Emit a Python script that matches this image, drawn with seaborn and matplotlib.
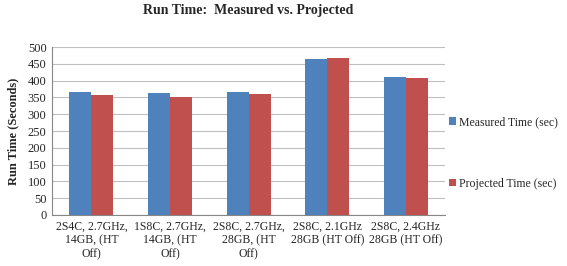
import pandas as pd
import matplotlib.pyplot as plt
import seaborn as sns

configs = ['2S4C, 2.7GHz,\n14GB, (HT\nOff)', '1S8C, 2.7GHz,\n14GB, (HT\nOff)',
           '2S8C, 2.7GHz,\n28GB, (HT\nOff)', '2S8C, 2.1GHz\n28GB (HT Off)',
           '2S8C, 2.4GHz\n28GB (HT Off)']
measured = [366, 362, 365, 465, 411]
projected = [357, 351, 361, 468, 409]
series = ['Measured Time (sec)', 'Projected Time (sec)']

df = pd.DataFrame({'config': configs * 2,
                   'time': measured + projected,
                   'series': [series[0]] * 5 + [series[1]] * 5})

sns.set_style("white")
plt.rcParams['font.family'] = ['Liberation Serif', 'DejaVu Serif']

fig = plt.figure(figsize=(5.67, 2.66), dpi=100)
ax = fig.add_axes([0.092, 0.192, 0.693, 0.631])
sns.barplot(data=df, x='config', y='time', hue='series', width=0.56,
            palette=['#4F81BD', '#C0504D'], saturation=1, ax=ax, zorder=3,
            linewidth=0)

ax.set_ylim(0, 500)
ax.set_yticks(range(0, 501, 50))
ax.yaxis.grid(True, color='#BFBFBF', linewidth=0.8, zorder=0)
ax.set_axisbelow(True)
for s in ['top', 'right']:
    ax.spines[s].set_visible(False)
for s in ['left', 'bottom']:
    ax.spines[s].set_color('#868686')
    ax.spines[s].set_linewidth(0.8)
ax.tick_params(axis='x', labelsize=8.5, length=0, pad=4)
ax.tick_params(axis='y', labelsize=9, length=0, pad=4)
ax.set_xlabel('')
ax.set_ylabel('Run Time (Seconds)', fontsize=9, fontweight='bold', labelpad=6)
ax.set_title('Run Time:  Measured vs. Projected', fontsize=10, fontweight='bold', pad=24)

handles, labels = ax.get_legend_handles_labels()
ax.legend(handles, labels, loc='center left', bbox_to_anchor=(1.0, 0.37),
          frameon=False, fontsize=8.5, labelspacing=4.2, handlelength=0.6,
          handleheight=0.6, handletextpad=0.25, borderaxespad=0.1,
          borderpad=0.2)

fig.savefig('out.png', dpi=100)
